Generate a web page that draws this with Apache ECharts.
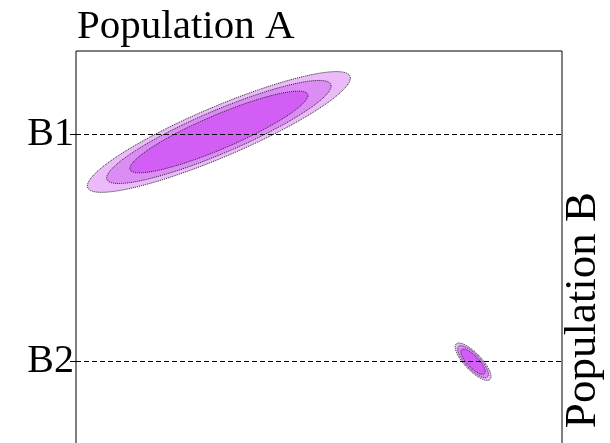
<!DOCTYPE html>
<html>
<head>
<meta charset="utf-8">
<script src="https://cdn.jsdelivr.net/npm/echarts@6/dist/echarts.min.js"></script>
<style>html,body{margin:0;padding:0;background:#fff}#c{width:610px;height:443px}</style>
</head>
<body>
<div id="c"></div>
<script>
// ---- data ----
const titleText = 'Population A';
const yName = 'Population B';
const bLabels = ['B1', 'B2'];
const bValues = [1, 0];
// bivariate normal components: centre, sd and correlation (data units)
const centerA = [0.294, 0.817];
const centerB = [1.01, 0.0];
const sdA = [0.0902, 0.01233];
const sdB = [0.0885, 0.0274];
const rho = [0.8925, -0.786];
// contour radii (Mahalanobis units), outermost first
const levels = [3, 2.56, 2.03];

const fills = ['#eabaf9', '#dc8cf5', '#d25ef6'];
const FONT = 'Liberation Serif';

const comps = centerA.map((c, i) => [c, centerB[i], sdA[i], sdB[i], rho[i]]);

function renderItem(params, api) {
  const cx = api.value(0), cy = api.value(1), sx = api.value(2), sy = api.value(3), r = api.value(4);
  const k = Math.sqrt(1 - r * r);
  const children = levels.map((lv, li) => {
    const pts = [];
    for (let t = 0; t < 180; t++) {
      const a = t / 180 * Math.PI * 2;
      const x = cx + lv * sx * Math.cos(a);
      const y = cy + lv * (r * sy * Math.cos(a) + sy * k * Math.sin(a));
      pts.push(api.coord([x, y]));
    }
    return {
      type: 'polygon',
      shape: { points: pts },
      style: { fill: fills[li], stroke: '#222', lineWidth: 1, lineDash: [1, 1] }
    };
  });
  return { type: 'group', children };
}

const chart = echarts.init(document.getElementById('c'), null, { renderer: 'canvas' });
chart.setOption({
  animation: false,
  backgroundColor: '#fff',
  title: {
    text: titleText, left: 72, top: 2,
    textStyle: { fontFamily: FONT, fontSize: 41, fontWeight: 'normal', color: '#000' }
  },
  grid: { left: 76, top: 51, right: 48, bottom: -120, outerBoundsMode: 'none', show: true, borderColor: '#000', borderWidth: 1, containLabel: false },
  xAxis: { type: 'value', min: 0, max: 1, axisLine: { show: false }, axisTick: { show: false }, axisLabel: { show: false }, splitLine: { show: false } },
  yAxis: {
    type: 'value', min: -0.885, max: 1.366,
    axisLine: { show: false },
    axisTick: { show: true, customValues: bValues, length: 6, lineStyle: { color: '#000', width: 1 } },
    axisLabel: {
      show: true, customValues: bValues, margin: 2,
      formatter: v => bLabels[bValues.indexOf(v)] || '',
      fontFamily: FONT, fontSize: 40, color: '#000'
    },
    splitLine: { show: false }
  },
  graphic: [{
    type: 'text', x: 583, y: 310, rotation: Math.PI / 2,
    style: { text: yName, font: '45px "Liberation Serif"', fill: '#000', textAlign: 'center', textVerticalAlign: 'middle' }
  }],
  series: [
    { type: 'custom', renderItem, data: comps, encode: { x: 0, y: 1 }, z: 2, silent: true },
    {
      type: 'line', data: [], z: 5, silent: true,
      markLine: {
        silent: true, symbol: ['none', 'none'], label: { show: false },
        lineStyle: { type: [5, 3], color: '#000', width: 1 },
        data: bValues.map(v => ({ yAxis: v }))
      }
    }
  ]
});
</script>
</body>
</html>
